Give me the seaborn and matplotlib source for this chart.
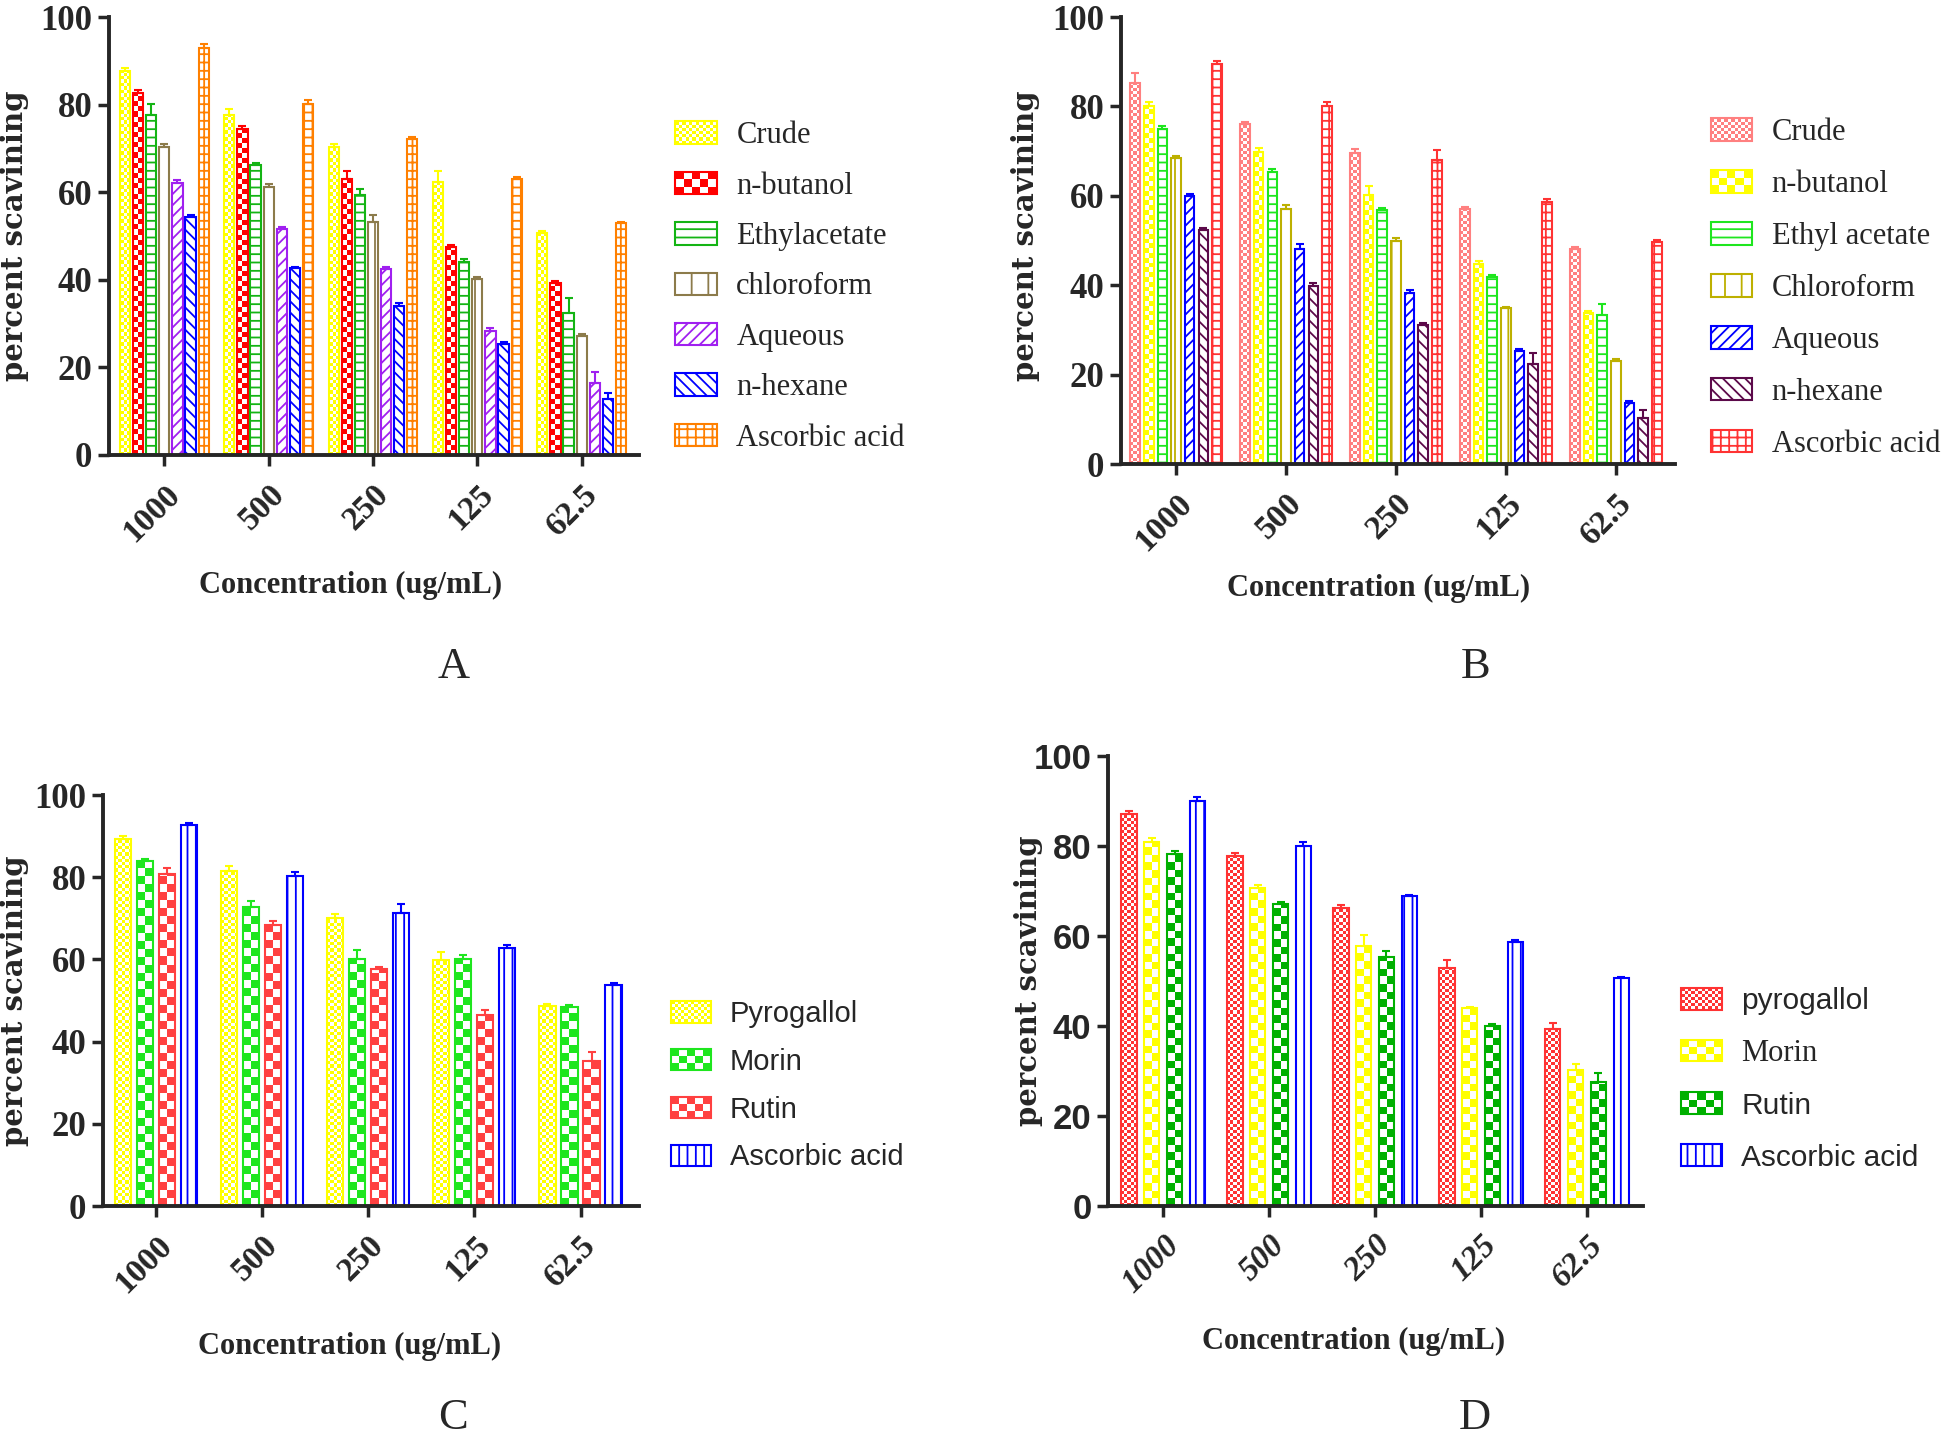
import numpy as np
import pandas as pd
import matplotlib
matplotlib.use('Agg')
import matplotlib.pyplot as plt
from matplotlib.patches import Patch, Rectangle
from matplotlib.legend_handler import HandlerBase
from matplotlib.colors import ListedColormap
from matplotlib import font_manager
import seaborn as sns

sns.set_style('ticks')
plt.rcParams['hatch.linewidth'] = 1.3

SERIF = 'Liberation Serif'
SANS = 'Liberation Sans'
_names = {f.name for f in font_manager.fontManager.ttflist}
NARROW = 'Liberation Sans Narrow' if 'Liberation Sans Narrow' in _names else SANS

CONC = ['1000', '500', '250', '125', '62.5']

# panel A
A_NAMES = ['Crude', 'n-butanol', 'Ethylacetate', 'chloroform', 'Aqueous', 'n-hexane', 'Ascorbic acid']
A_VALUES = [
    [87.6, 77.7, 70.3, 62.4, 50.6],
    [82.7, 74.4, 63.1, 47.4, 39.2],
    [77.6, 66.1, 59.3, 44.0, 32.5],
    [70.3, 61.2, 53.3, 40.2, 27.1],
    [62.1, 51.6, 42.4, 28.3, 16.5],
    [54.4, 42.6, 34.1, 25.3, 12.7],
    [93.0, 80.2, 72.2, 63.0, 52.9],
]
A_ERR = [
    [0.8, 1.2, 0.7, 2.4, 0.6],
    [0.7, 0.7, 1.7, 0.6, 0.5],
    [2.5, 0.5, 1.4, 0.7, 3.4],
    [0.7, 0.6, 1.6, 0.5, 0.6],
    [0.7, 0.5, 0.5, 0.6, 2.4],
    [0.5, 0.4, 0.5, 0.6, 1.4],
    [0.8, 0.8, 0.5, 0.4, 0.4],
]
A_COLORS = ['#ffff00', '#ff0000', '#14b414', '#8c7b4b', '#a020f0', '#0000ff', '#ff8000']

# panel B
B_NAMES = ['Crude', 'n-butanol', 'Ethyl acetate', 'Chloroform', 'Aqueous', 'n-hexane', 'Ascorbic acid']
B_VALUES = [
    [85.2, 76.1, 69.6, 57.1, 48.1],
    [80.1, 69.8, 60.1, 44.7, 33.8],
    [74.9, 65.3, 56.9, 41.8, 33.4],
    [68.5, 57.1, 50.0, 34.8, 23.0],
    [59.9, 48.0, 38.3, 25.2, 13.6],
    [52.4, 39.8, 31.0, 22.4, 10.4],
    [89.6, 80.2, 68.1, 58.7, 49.6],
]
B_ERR = [
    [2.3, 0.4, 0.8, 0.5, 0.4],
    [0.9, 0.8, 2.2, 0.8, 0.4],
    [0.7, 0.7, 0.4, 0.5, 2.4],
    [0.5, 0.8, 0.5, 0.4, 0.4],
    [0.5, 1.3, 0.6, 0.6, 0.6],
    [0.5, 0.8, 0.6, 2.4, 1.7],
    [0.6, 0.8, 2.2, 0.7, 0.5],
]
B_COLORS = ['#ff8080', '#ffff00', '#1ee61e', '#bdb000', '#0000ff', '#5c0a4a', '#ff3333']

# panel C
C_NAMES = ['Pyrogallol', 'Morin', 'Rutin', 'Ascorbic acid']
C_VALUES = [
    [89.3, 81.5, 70.2, 59.8, 48.6],
    [83.9, 72.8, 60.2, 60.2, 48.4],
    [80.9, 68.5, 57.6, 46.6, 35.2],
    [92.7, 80.3, 71.2, 62.8, 53.7],
]
C_ERR = [
    [0.8, 1.2, 0.9, 2.1, 0.6],
    [0.5, 1.4, 2.2, 0.9, 0.6],
    [1.3, 0.9, 0.6, 1.0, 2.3],
    [0.6, 0.9, 2.2, 0.8, 0.6],
]
C_COLORS = ['#ffff00', '#1ee61e', '#ff4040', '#0000ff']

# panel D
D_NAMES = ['pyrogallol', 'Morin', 'Rutin', 'Ascorbic acid']
D_VALUES = [
    [87.0, 77.7, 66.3, 53.0, 39.3],
    [80.8, 70.6, 57.8, 43.9, 30.3],
    [78.3, 67.1, 55.4, 39.9, 27.5],
    [90.0, 80.1, 68.8, 58.7, 50.6],
]
D_ERR = [
    [0.7, 0.8, 0.6, 1.6, 1.4],
    [1.0, 0.8, 2.4, 0.4, 1.3],
    [0.6, 0.5, 1.3, 0.6, 2.1],
    [0.9, 0.7, 0.4, 0.4, 0.3],
]
D_COLORS = ['#ff3333', '#ffff00', '#00b000', '#0000ff']

SIX_KINDS = ['fine', 'check', '--', '|', '///', '\\\\\\', '++']
FOUR_KINDS = ['fine', 'check', 'check', '||']
CHECK_PX = {'fine': 3.2, 'check': 7.5}
LEG_COLS = {'fine': 12, 'check': 5}

fig = plt.figure(figsize=(19.46, 14.43), dpi=100)


class CheckerHandler(HandlerBase):
    def __init__(self, color, ncols):
        super().__init__()
        self.color = color
        self.ncols = ncols

    def create_artists(self, legend, orig_handle, xdescent, ydescent, width, height, fontsize, trans):
        cell = width / self.ncols
        nrows = max(1, int(round(height / cell)))
        ch = height / nrows
        arts = []
        for i in range(nrows):
            for j in range(self.ncols):
                if (i + j) % 2 == 0:
                    arts.append(Rectangle((-xdescent + j * cell, -ydescent + i * ch), cell, ch,
                                          facecolor=self.color, edgecolor='none', transform=trans))
        arts.append(Rectangle((-xdescent, -ydescent), width, height, facecolor='none',
                              edgecolor=self.color, lw=1.5, transform=trans))
        return arts


def panel(rect, names, values, errs, colors, kinds, width, gap, xlim, tickfont, xstyle='normal'):
    ax = fig.add_axes(rect)
    rows = []
    for name, vals in zip(names, values):
        for c, v in zip(CONC, vals):
            rows.append({'conc': c, 'value': v, 'series': name})
    df = pd.DataFrame(rows)
    sns.barplot(data=df, x='conc', y='value', hue='series', order=CONC, hue_order=names,
                palette=colors, width=width, gap=gap, errorbar=None, saturation=1,
                legend=False, ax=ax)
    ax.set_xlim(*xlim)
    ax.set_ylim(0, 100)

    for cont, color, kind, err in zip(ax.containers, colors, kinds, errs):
        xs, hs = [], []
        for p in cont.patches:
            x0, w, h = p.get_x(), p.get_width(), p.get_height()
            xs.append(x0 + w / 2)
            hs.append(h)
            p.set_linewidth(1.5)
            p.set_edgecolor(color)
            if kind in CHECK_PX:
                # checkerboard fill, clipped to the bar
                p.set_facecolor('none')
                a = ax.transData.transform((x0, 0))
                b = ax.transData.transform((x0 + w, h))
                wpx, hpx = b[0] - a[0], b[1] - a[1]
                nx = max(2, int(round(wpx / CHECK_PX[kind])))
                cell = wpx / nx
                ny = int(np.ceil(hpx / cell)) + 1
                arr = np.add.outer(np.arange(ny), np.arange(nx)) % 2
                top = ny * cell * h / hpx
                im = ax.imshow(arr, cmap=ListedColormap([color, 'white']), extent=(x0, x0 + w, 0, top),
                               origin='lower', aspect='auto', interpolation='nearest', zorder=0.9)
                im.set_clip_path(p)
            else:
                p.set_facecolor('white')
                p.set_hatch(kind)
        ax.errorbar(xs, hs, yerr=[np.zeros(len(err)), err], fmt='none', ecolor=color,
                    elinewidth=1.5, capsize=2.8, capthick=1.5, zorder=3)

    ax.set_xlim(*xlim)
    ax.set_ylim(0, 100)
    sns.despine(ax=ax)
    for s in ['left', 'bottom']:
        ax.spines[s].set_linewidth(2.8)
    ax.tick_params(axis='both', direction='out', length=8, width=2.5, pad=4)
    ax.tick_params(axis='x', pad=9)
    ax.set_yticks(range(0, 101, 20))
    ax.set_yticklabels([str(v) for v in range(0, 101, 20)], fontfamily=tickfont,
                       fontweight='bold', fontsize=25)
    ax.set_xticks(range(len(CONC)))
    ax.set_xticklabels(CONC, rotation=45, ha='right', rotation_mode='anchor',
                       fontfamily=SERIF, fontweight='bold', fontstyle=xstyle, fontsize=24)
    ax.set_ylabel('percent scavining', fontfamily='DejaVu Serif', fontweight='bold', fontsize=21)
    ax.set_xlabel('Concentration (ug/mL)', fontfamily=SERIF, fontweight='bold', fontsize=22)
    return ax


def legend_for(names, colors, kinds, anchor, font, size, spacing):
    handles, hmap = [], {}
    for color, kind in zip(colors, kinds):
        if kind in CHECK_PX:
            h = Patch(facecolor='none', edgecolor=color)
            hmap[h] = CheckerHandler(color, LEG_COLS[kind])
        else:
            h = Patch(facecolor='white', edgecolor=color, hatch=kind, lw=1.5)
        handles.append(h)
    leg = fig.legend(handles, names, loc='upper left', bbox_to_anchor=anchor, frameon=False,
                     prop={'family': font, 'size': size}, handlelength=1.35, handleheight=0.75,
                     labelspacing=spacing, handletextpad=0.65, borderpad=0, borderaxespad=0,
                     handler_map=hmap)
    return leg


axA = panel([0.0560, 0.6847, 0.2724, 0.3035], A_NAMES, A_VALUES, A_ERR, A_COLORS, SIX_KINDS,
            0.88, 0.22, (-0.53, 4.55), SERIF)
axB = panel([0.5761, 0.6784, 0.2847, 0.3098], B_NAMES, B_VALUES, B_ERR, B_COLORS, SIX_KINDS,
            0.87, 0.3, (-0.50, 4.54), SERIF)
axC = panel([0.0529, 0.1642, 0.2754, 0.2848], C_NAMES, C_VALUES, C_ERR, C_COLORS, FOUR_KINDS,
            0.83, 0.27, (-0.50, 4.55), SERIF)
axD = panel([0.5694, 0.1642, 0.2750, 0.3119], D_NAMES, D_VALUES, D_ERR, D_COLORS, FOUR_KINDS,
            0.86, 0.33, (-0.52, 4.53), NARROW, xstyle='italic')

axA.xaxis.set_label_coords(0.455, -0.265)
axB.xaxis.set_label_coords(0.464, -0.246)
axC.xaxis.set_label_coords(0.461, -0.307)
axD.xaxis.set_label_coords(0.458, -0.269)
axA.yaxis.set_label_coords(-0.151, 0.5)
axB.yaxis.set_label_coords(-0.146, 0.51)
axC.yaxis.set_label_coords(-0.138, 0.5)
axD.yaxis.set_label_coords(-0.121, 0.5)

legend_for(A_NAMES, A_COLORS, SIX_KINDS, (0.347, 0.916), SERIF, 22, 0.70)
legend_for(B_NAMES, B_COLORS, SIX_KINDS, (0.879, 0.918), SERIF, 22, 0.75)
legend_for(C_NAMES, C_COLORS, FOUR_KINDS, (0.345, 0.307), SANS, 21, 0.68)
legD = legend_for(D_NAMES, D_COLORS, FOUR_KINDS, (0.864, 0.316), SANS, 21.5, 0.80)
legD.get_texts()[1].set_fontfamily(SERIF)
legD.get_texts()[1].set_fontsize(22)

for letter, x, y in [('A', 0.233, 0.538), ('B', 0.758, 0.538), ('C', 0.233, 0.017), ('D', 0.758, 0.017)]:
    fig.text(x, y, letter, ha='center', va='center', fontfamily=SERIF, fontsize=32)

fig.savefig('out.png', dpi=100)
